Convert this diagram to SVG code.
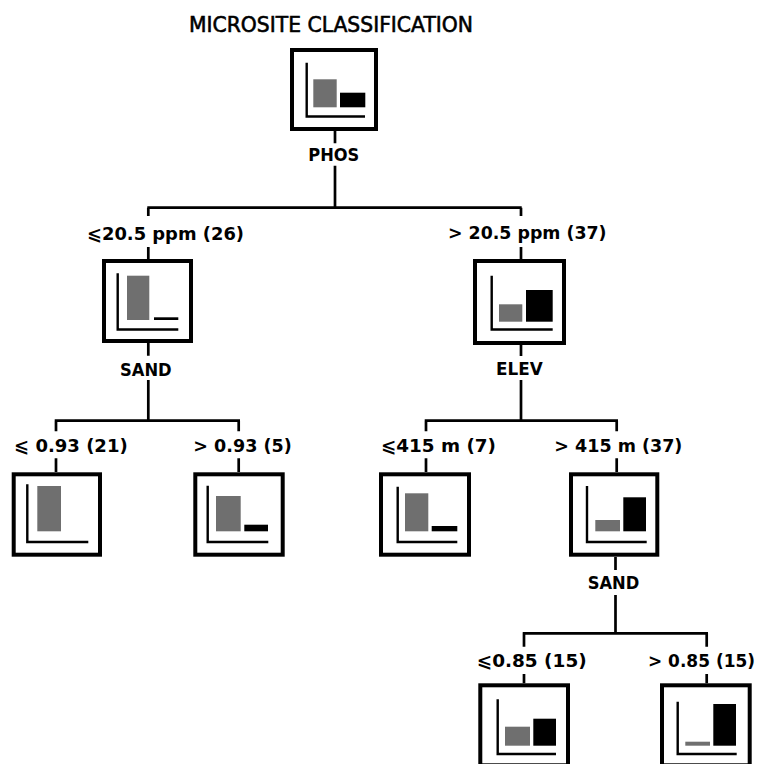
<svg xmlns="http://www.w3.org/2000/svg" width="762" height="764" viewBox="0 0 762 764">
<style>
.box{fill:#fff;stroke:#000;stroke-width:4}
.ax{fill:none;stroke:#000;stroke-width:2.4}
.g{fill:#6f6f6f}
.k{fill:#000}
.c{fill:none;stroke:#000;stroke-width:2.7}
.t{font-family:"DejaVu Sans","Liberation Sans",sans-serif;font-size:18px;font-weight:bold;fill:#000}
.title{font-family:"DejaVu Sans","Liberation Sans",sans-serif;font-size:21px;fill:#000;stroke:#000;stroke-width:0.6}
</style>
<rect width="762" height="764" fill="#fff"/>
<text class="title" x="189" y="31.7" textLength="284" lengthAdjust="spacingAndGlyphs">MICROSITE CLASSIFICATION</text>

<g id="connectors">
<path class="c" d="M335,131V143.3M335,165.7V207.7M147.3,207.7H521.7M148.3,207.7V216M148.3,247V259M521,207.7V216M521,247V259"/>
<path class="c" d="M148.3,343V355.7M148.3,380V420.7M54.7,420.7H240M56,420.7V431.3M56,458.3V472M238.7,420.7V431.3M238.7,458.3V472"/>
<path class="c" d="M521,345V356M521,380V420.7M424.7,420.7H618M426,420.7V431.3M426,458.3V472M616.7,420.7V431.3M616.7,458.3V472"/>
<path class="c" d="M615.5,557V570M615.5,595V633.3M522.7,633.3H708M524,633.3V646.7M524,674V683.3M706.7,633.3V646.7M706.7,674V683.3"/>
<text class="t" x="87" y="240" textLength="157" lengthAdjust="spacingAndGlyphs">⩽20.5 ppm (26)</text>
<text class="t" x="448" y="239" textLength="158.5" lengthAdjust="spacingAndGlyphs">&gt; 20.5 ppm (37)</text>
<text class="t" x="14" y="452.3" textLength="113.7" lengthAdjust="spacingAndGlyphs">⩽ 0.93 (21)</text>
<text class="t" x="193.3" y="452.3" textLength="98.4" lengthAdjust="spacingAndGlyphs">&gt; 0.93 (5)</text>
<text class="t" x="381" y="452.3" textLength="115" lengthAdjust="spacingAndGlyphs">⩽415 m (7)</text>
<text class="t" x="554.3" y="452.3" textLength="128" lengthAdjust="spacingAndGlyphs">&gt; 415 m (37)</text>
<text class="t" x="476.7" y="666.7" textLength="110" lengthAdjust="spacingAndGlyphs">⩽0.85 (15)</text>
<text class="t" x="648" y="666.7" textLength="107" lengthAdjust="spacingAndGlyphs">&gt; 0.85 (15)</text>
</g>

<g id="node-root">
<rect class="box" x="292" y="50" width="84" height="79"/>
<path class="ax" d="M306.7,62.7V116.5H365"/>
<rect class="g" x="313.3" y="79.3" width="23.4" height="28"/>
<rect class="k" x="340" y="92.7" width="25.3" height="14.6"/>
<text class="t" x="308.3" y="160.7" textLength="51" lengthAdjust="spacingAndGlyphs">PHOS</text>
</g>

<g id="node-sand1">
<rect class="box" x="104" y="261" width="87" height="80"/>
<path class="ax" d="M117.7,273.3V329.5H178.3"/>
<rect class="g" x="127" y="275.7" width="22.3" height="44.3"/>
<rect class="k" x="154" y="317.3" width="24.3" height="2.7"/>
<text class="t" x="120" y="375.5" textLength="51.7" lengthAdjust="spacingAndGlyphs">SAND</text>
</g>

<g id="node-elev">
<rect class="box" x="475" y="261" width="89" height="82"/>
<path class="ax" d="M491.7,275.7V329.5H552.7"/>
<rect class="g" x="499" y="304.3" width="23.3" height="17.4"/>
<rect class="k" x="526" y="290" width="26.7" height="31.7"/>
<text class="t" x="496" y="374.5" textLength="46.7" lengthAdjust="spacingAndGlyphs">ELEV</text>
</g>

<g id="node-ll">
<rect class="box" x="13.7" y="474.3" width="86.3" height="80.4"/>
<path class="ax" d="M27.3,484.3V542H88.3"/>
<rect class="g" x="37.3" y="486" width="23.7" height="45.3"/>
</g>

<g id="node-lr">
<rect class="box" x="195.3" y="474.3" width="87.4" height="80.4"/>
<path class="ax" d="M207.7,485.7V542H268.3"/>
<rect class="g" x="216" y="496" width="24.7" height="35.3"/>
<rect class="k" x="244.3" y="524.7" width="23.7" height="6.6"/>
</g>

<g id="node-rl">
<rect class="box" x="381" y="474.3" width="88" height="80.4"/>
<path class="ax" d="M397.7,486.7V542H457.3"/>
<rect class="g" x="405" y="493.3" width="23.3" height="38"/>
<rect class="k" x="431.7" y="526" width="25.6" height="5.3"/>
</g>

<g id="node-sand2">
<rect class="box" x="571" y="474.3" width="86.3" height="80.4"/>
<path class="ax" d="M587,486V542H646.7"/>
<rect class="g" x="595.3" y="520" width="24.7" height="11.3"/>
<rect class="k" x="623.3" y="497.3" width="22.7" height="34"/>
<text class="t" x="587.7" y="589" textLength="51.6" lengthAdjust="spacingAndGlyphs">SAND</text>
</g>

<g id="node-rrl">
<rect class="box" x="480.3" y="685.3" width="87.7" height="80"/>
<path class="ax" d="M497.7,699.3V754H556"/>
<rect class="g" x="505" y="726.7" width="25" height="19"/>
<rect class="k" x="533.3" y="718.7" width="22.7" height="27"/>
</g>

<g id="node-rrr">
<rect class="box" x="662" y="685.3" width="87.7" height="80"/>
<path class="ax" d="M677.7,701.7V754H736.7"/>
<rect class="g" x="685.3" y="741.7" width="24.7" height="4"/>
<rect class="k" x="713.3" y="704" width="22.7" height="41.7"/>
</g>
</svg>
